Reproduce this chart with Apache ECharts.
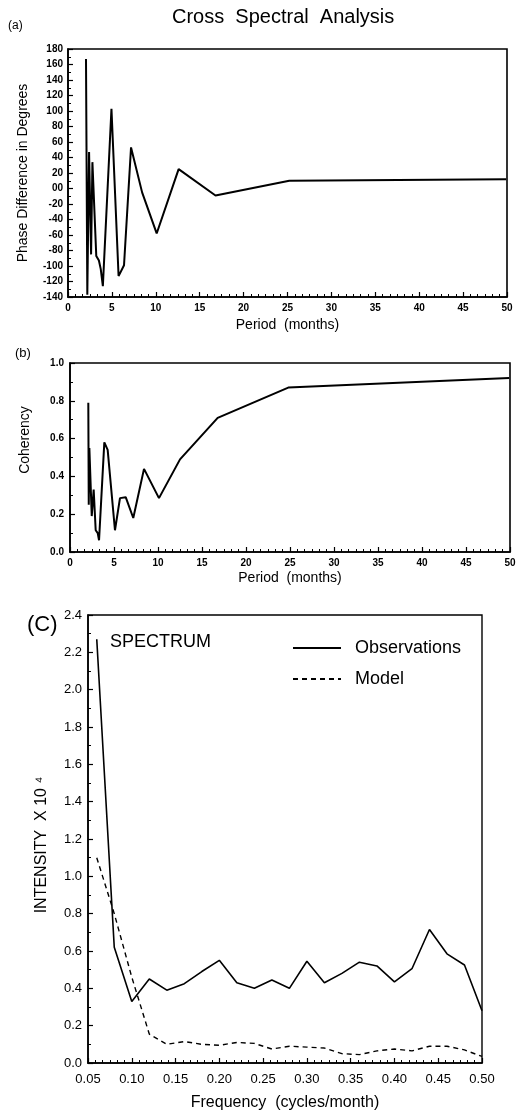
<!DOCTYPE html>
<html><head><meta charset="utf-8">
<script src="https://cdn.jsdelivr.net/npm/echarts@6/dist/echarts.min.js"></script>
<style>html,body{margin:0;padding:0;background:#fff}#c{width:527px;height:1115px}</style>
</head><body><div id="c"></div>
<script>
// Panel (a): phase difference vs period
const periodA = [2.05, 2.2, 2.4, 2.63, 2.78, 2.99, 3.22, 3.52, 3.73, 3.97, 4.95, 5.76, 6.38, 7.18, 8.44, 10.1, 12.6, 16.8, 25.2, 49.9];
const phaseA  = [167, -137, 47, -85, 34, 33, -87, -93, -104, -126, 103, -113, -99, 53, -5, -58, 25, -9, 10, 12];
// Panel (b): coherency vs period
const periodB = [2.08, 2.13, 2.2, 2.47, 2.69, 2.92, 3.15, 3.3, 3.9, 4.28, 5.11, 5.68, 6.33, 7.19, 8.41, 10.11, 12.5, 16.78, 24.8, 49.9];
const cohB    = [0.79, 0.25, 0.55, 0.19, 0.33, 0.115, 0.10, 0.062, 0.58, 0.54, 0.115, 0.285, 0.29, 0.18, 0.44, 0.285, 0.49, 0.71, 0.87, 0.92];
// Panel (c): spectrum
const freq  = [0.06,0.08,0.10,0.12,0.14,0.16,0.18,0.20,0.22,0.24,0.26,0.28,0.30,0.32,0.34,0.36,0.38,0.40,0.42,0.44,0.46,0.48,0.50];
const obs   = [2.27,0.62,0.33,0.45,0.39,0.425,0.49,0.55,0.43,0.40,0.445,0.40,0.545,0.43,0.48,0.54,0.52,0.435,0.505,0.715,0.585,0.525,0.28];
const model = [1.10,0.80,0.46,0.155,0.10,0.115,0.10,0.095,0.11,0.105,0.075,0.09,0.085,0.08,0.05,0.045,0.065,0.075,0.065,0.09,0.09,0.07,0.035];

const F = 'Liberation Sans, Arial, sans-serif';
const zip = (a, b) => a.map((v, i) => [v, b[i]]);

function ax(gi, min, max, interval, fmt, fs, bold, margin, minorSplit) {
  return {
    type: 'value', gridIndex: gi, min, max, interval,
    axisLine: { show: true, onZero: false, lineStyle: { color: '#000', width: 1.6 } },
    axisTick: { show: true, inside: true, length: 5, lineStyle: { color: '#000', width: 1.2 } },
    minorTick: { show: true, splitNumber: minorSplit, length: 3, lineStyle: { color: '#000', width: 1 } },
    splitLine: { show: false },
    axisLabel: { color: '#000', fontFamily: F, fontSize: fs, fontWeight: bold ? 'bold' : 'normal', margin, formatter: fmt }
  };
}

const option = {
  backgroundColor: '#fff',
  animation: false,
  grid: [
    { left: 68, top: 49, width: 439, height: 248, show: true, borderColor: '#000', borderWidth: 1.6, containLabel: false },
    { left: 70, top: 363, width: 440, height: 189, show: true, borderColor: '#000', borderWidth: 1.6, containLabel: false },
    { left: 88, top: 615, width: 394, height: 448, show: true, borderColor: '#000', borderWidth: 1.4, containLabel: false }
  ],
  xAxis: [
    Object.assign(ax(0, 0, 50, 5, v => String(v), 10, true, 6, 6), { name: 'Period  (months)', nameLocation: 'middle', nameGap: 21, nameTextStyle: { fontFamily: F, fontSize: 14, color: '#000' } }),
    Object.assign(ax(1, 0, 50, 5, v => String(v), 10, true, 6, 6), { name: 'Period  (months)', nameLocation: 'middle', nameGap: 19, nameTextStyle: { fontFamily: F, fontSize: 14, color: '#000' } }),
    Object.assign(ax(2, 0.05, 0.5, 0.05, v => v.toFixed(2), 13, false, 10, 6), { name: 'Frequency  (cycles/month)', nameLocation: 'middle', nameGap: 32, nameTextStyle: { fontFamily: F, fontSize: 16, color: '#000' } })
  ],
  yAxis: [
    ax(0, -140, 180, 20, v => (v === 0 ? '00' : String(v)), 10, true, 5, 2),
    ax(1, 0, 1, 0.2, v => v.toFixed(1), 10, true, 6, 2),
    ax(2, 0, 2.4, 0.2, v => v.toFixed(1), 13, false, 6, 2)
  ],
  legend: {
    orient: 'vertical', left: 287, top: 634, itemWidth: 48, itemHeight: 18, itemGap: 13,
    itemStyle: { opacity: 0 },
    textStyle: { fontFamily: F, fontSize: 18, color: '#000', padding: [0, 0, 0, 9] },
    data: ['Observations', 'Model']
  },
  graphic: [
    { type: 'text', left: 172, top: 7, style: { text: 'Cross  Spectral  Analysis', font: '20px ' + F, fill: '#000' } },
    { type: 'text', left: 8, top: 20, style: { text: '(a)', font: '12px ' + F, fill: '#000' } },
    { type: 'text', left: 15, top: 347, style: { text: '(b)', font: '13px ' + F, fill: '#000' } },
    { type: 'text', left: 27, top: 614, style: { text: '(C)', font: '22px ' + F, fill: '#000' } },
    { type: 'text', x: 23, y: 173, rotation: Math.PI / 2, style: { text: 'Phase Difference in Degrees', font: '14px ' + F, fill: '#000', align: 'center', verticalAlign: 'middle' } },
    { type: 'text', x: 25, y: 440, rotation: Math.PI / 2, style: { text: 'Coherency', font: '14px ' + F, fill: '#000', align: 'center', verticalAlign: 'middle' } },
    { type: 'text', x: 42, y: 845, rotation: Math.PI / 2, style: { text: 'INTENSITY  X 10 \u2074', font: '16px ' + F, fill: '#000', align: 'center', verticalAlign: 'middle' } },
    { type: 'text', left: 110, top: 633, style: { text: 'SPECTRUM', font: '18px ' + F, fill: '#000' } }
  ],
  series: [
    { type: 'line', xAxisIndex: 0, yAxisIndex: 0, data: zip(periodA, phaseA), symbol: 'none', lineStyle: { color: '#000', width: 2 } },
    { type: 'line', xAxisIndex: 1, yAxisIndex: 1, data: zip(periodB, cohB), symbol: 'none', lineStyle: { color: '#000', width: 2 } },
    { name: 'Observations', type: 'line', xAxisIndex: 2, yAxisIndex: 2, data: zip(freq, obs), symbol: 'none', itemStyle: { color: '#000' }, lineStyle: { color: '#000', width: 1.6 } },
    { name: 'Model', type: 'line', xAxisIndex: 2, yAxisIndex: 2, data: zip(freq, model), symbol: 'none', itemStyle: { color: '#000' }, lineStyle: { color: '#000', width: 1.4, type: [5, 4] } }
  ]
};
const chart = echarts.init(document.getElementById('c'), null, { renderer: 'canvas' });
chart.setOption(option);
</script></body></html>
